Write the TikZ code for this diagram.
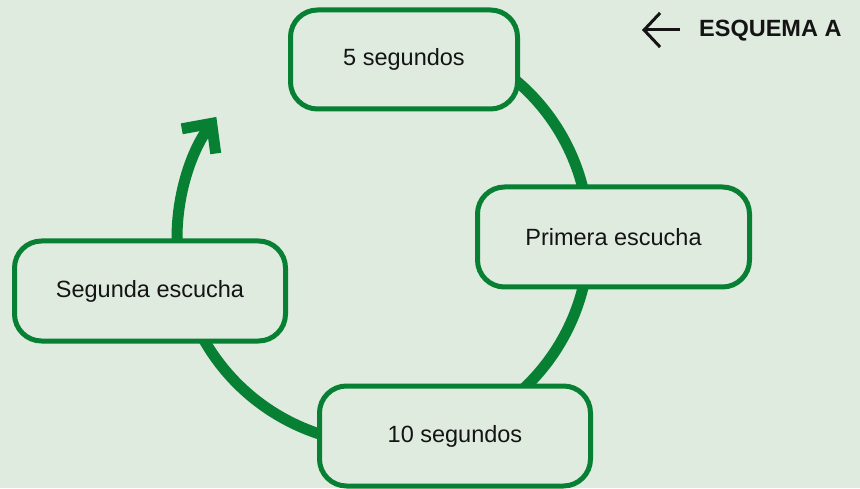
\documentclass[tikz,border=0pt]{standalone}
\usepackage{fontspec}
\setmainfont{Liberation Sans}
\usetikzlibrary{arrows.meta,calc}
\definecolor{bg}{RGB}{222,235,222}
\definecolor{grn}{RGB}{8,128,52}
\definecolor{ink}{RGB}{20,20,20}
\tikzset{
  stagebox/.style={draw=grn, line width=5pt, rounded corners=27pt, fill=bg,
    inner sep=0pt, text=ink, font=\fontsize{23.5}{28}\selectfont, yshift=-1.5pt},
  cyclearc/.style={draw=grn, line width=11pt},
}
\begin{document}
\begin{tikzpicture}[x=1pt,y=1pt]
\fill[bg] (0,0) rectangle (860,488);
\useasboundingbox (0,0) rectangle (860,488);
\coordinate (c) at (383,250);
% cycle arc
\draw[cyclearc, -{Straight Barb[length=22pt,width=42pt,line width=11pt]}]
  ($(c)+(60:206)$) arc[start angle=60, end angle=-216, radius=206];
% boxes
\node[stagebox, minimum width=227pt, minimum height=99pt] (cinco) at (404,430) {5 segundos};
\node[stagebox, minimum width=272pt, minimum height=100pt] (primera) at (613.5,252.5) {Primera escucha};
\node[stagebox, minimum width=271pt, minimum height=100pt] (segunda) at (150,198.5) {Segunda escucha};
\node[stagebox, minimum width=271pt, minimum height=100pt] (diez) at (455,53.5) {10 segundos};
% header
\node[anchor=west, inner sep=0pt, text=ink, font=\fontsize{23.5}{28}\selectfont\bfseries] (title) at (699,457) {ESQUEMA A};
\coordinate (backend) at (642,458);
\draw[ink, line width=3pt, -{Straight Barb[length=16pt,width=34pt,line width=3pt]}] (680,458) -- (backend);
\end{tikzpicture}
\end{document}
